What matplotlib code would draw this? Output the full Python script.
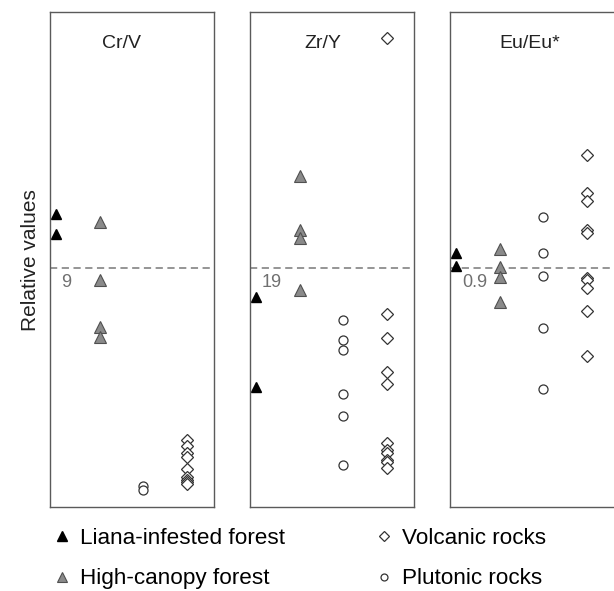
import matplotlib.pyplot as plt
from matplotlib.lines import Line2D

plt.rcParams['font.family'] = ['Liberation Sans', 'DejaVu Sans']

# relative values, axis 0-100 (no ticks in the original)
panels = ['Cr/V', 'Zr/Y', 'Eu/Eu*']
ref_labels = ['9', '19', '0.9']
ref_level = 48.3

liana = [[59.2, 55.2],
         [42.4, 24.2],
         [51.3, 48.7]]
high_canopy = [[57.6, 45.9, 36.4, 34.3],
               [66.9, 56.0, 54.3, 43.8],
               [52.1, 48.5, 46.5, 41.4]]
plutonic = [[4.2, 3.4],
            [37.8, 33.7, 31.7, 22.8, 18.4, 8.5],
            [58.6, 51.3, 46.7, 36.2, 23.8]]
volcanic = [[13.5, 12.3, 10.9, 10.1, 7.7, 6.1, 5.5, 5.1, 4.6],
            [94.7, 39.0, 34.1, 27.3, 24.8, 12.9, 11.5, 10.9, 9.5, 9.1, 7.9],
            [71.1, 63.4, 61.8, 56.0, 55.4, 46.3, 45.9, 44.2, 39.6, 30.5]]

fig = plt.figure(figsize=(6.14, 5.91), dpi=100)
lefts = [50/614, 250/614, 450/614]
title_x = [0.435, 0.445, 0.475]

for i in range(3):
    w = 164/614 if i < 2 else 168/614
    ax = fig.add_axes([lefts[i], 1 - 507/591, w, 495/591])
    ax.axhline(ref_level, color='#8c8c8c', ls=(0, (4, 2.5)), lw=1.3, zorder=1)
    ax.plot([1]*len(liana[i]), liana[i], '^', color='black', ms=7.5, clip_on=False)
    ax.plot([2]*len(high_canopy[i]), high_canopy[i], '^', mfc='#8a8a8a', mec='#505050',
            mew=0.8, ms=8.5)
    ax.plot([3]*len(plutonic[i]), plutonic[i], 'o', mfc='white', mec='#333333',
            mew=0.9, ms=6.5)
    ax.plot([4]*len(volcanic[i]), volcanic[i], 'D', mfc='white', mec='#333333',
            mew=0.9, ms=6)
    ax.text(title_x[i], 0.937, panels[i], transform=ax.transAxes, ha='center', va='center',
            fontsize=14, color='#222222')
    ax.text(0.07, ref_level - 1.2, ref_labels[i], ha='left', va='top', fontsize=13,
            color='#707070', transform=ax.get_yaxis_transform())
    ax.set_xlim(0.863, 4.62 if i < 2 else 4.71)
    ax.set_ylim(0, 100)
    ax.set_xticks([])
    ax.set_yticks([])
    for s in ax.spines.values():
        s.set_color('#5a5a5a')
        s.set_linewidth(1.0)

fig.text(30/614, 1 - 260/591, 'Relative values', rotation=90, ha='center', va='center',
         fontsize=15, color='#222222')

handles = [
    Line2D([], [], ls='', marker='^', color='black', ms=7),
    Line2D([], [], ls='', marker='^', mfc='#8a8a8a', mec='#505050', mew=0.8, ms=7),
    Line2D([], [], ls='', marker='D', mfc='white', mec='#333333', mew=0.9, ms=5),
    Line2D([], [], ls='', marker='o', mfc='white', mec='#333333', mew=0.9, ms=5),
]
names = ['Liana-infested forest', 'High-canopy forest', 'Volcanic rocks', 'Plutonic rocks']
fig.legend(handles, names, ncol=2, frameon=False, loc='upper left',
           bbox_to_anchor=(33/614, 1 - 508/591), fontsize=16.2, handlelength=0.8,
           handletextpad=0.4, columnspacing=4.0, labelspacing=0.85)

fig.savefig('out.png', dpi=100)
